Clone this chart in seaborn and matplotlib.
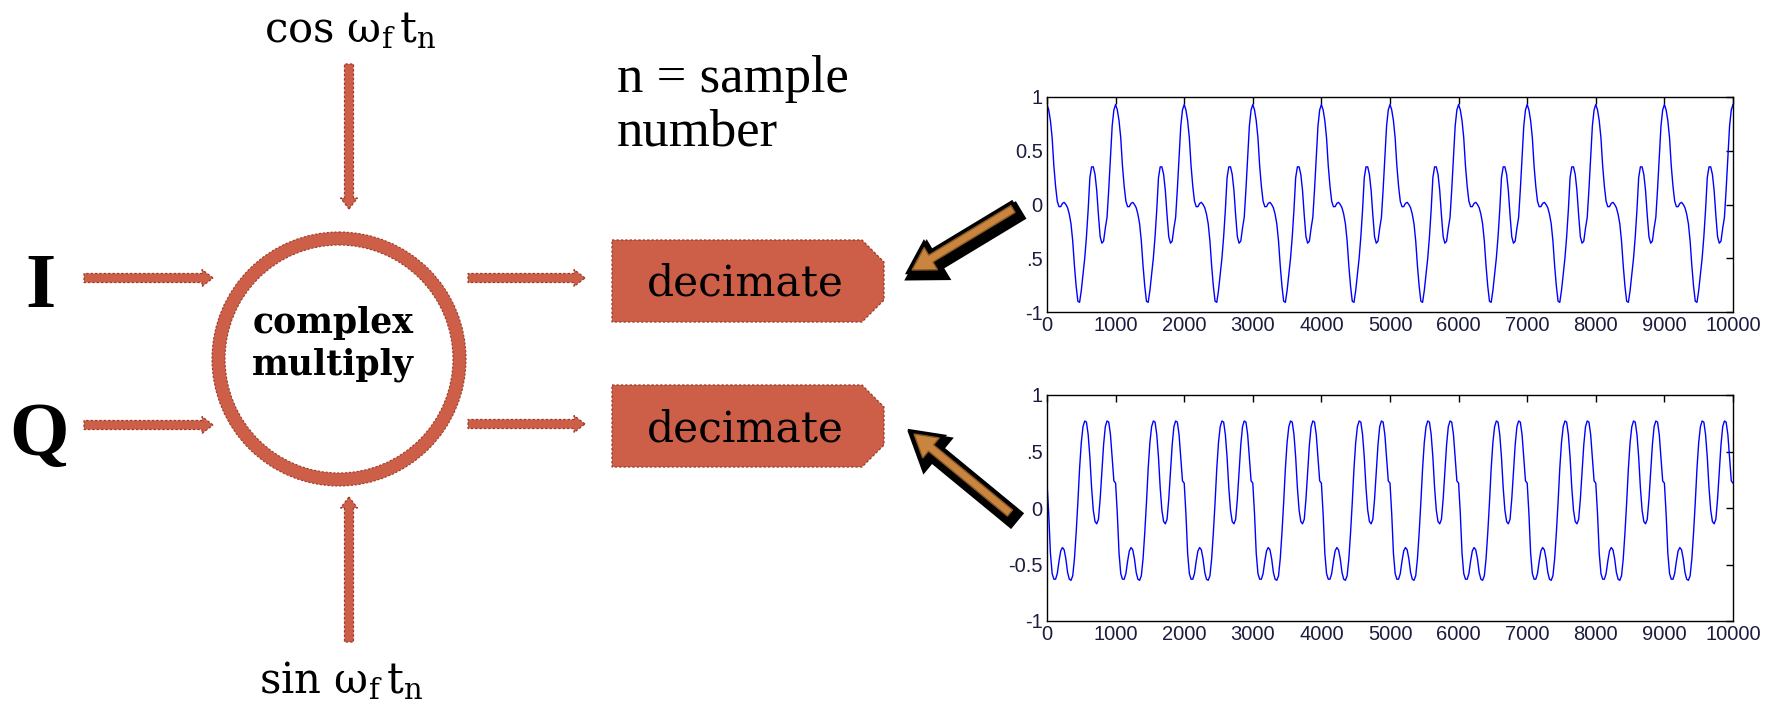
import numpy as np
import matplotlib
matplotlib.use("Agg")
import matplotlib.pyplot as plt
import seaborn as sns
from matplotlib.patches import Circle, Polygon, FancyArrow
import matplotlib.patheffects as pe

# ---------------- data ----------------
# one period (1000 samples) of each waveform, read every 25 samples
period_n = list(range(0, 1000, 25))
i_period = [0.93, 0.88, 0.78, 0.62, 0.36, 0.17, 0.03, -0.02, -0.02, 0.01,
            0.02, 0.00, -0.03, -0.09, -0.18, -0.34, -0.57, -0.76, -0.90, -0.91,
            -0.80, -0.65, -0.50, -0.30, -0.05, 0.25, 0.35, 0.35, 0.28, 0.13,
            -0.10, -0.30, -0.36, -0.34, -0.22, -0.12, 0.14, 0.44, 0.73, 0.88]
q_period = [0.22, -0.05, -0.40, -0.58, -0.63, -0.63, -0.58, -0.47, -0.38, -0.35,
            -0.37, -0.45, -0.57, -0.63, -0.64, -0.60, -0.45, -0.22, 0.05, 0.35,
            0.58, 0.72, 0.77, 0.76, 0.65, 0.45, 0.18, -0.02, -0.12, -0.14,
            -0.10, 0.08, 0.32, 0.56, 0.72, 0.77, 0.76, 0.65, 0.45, 0.24]
n_periods = 10
sample_n = np.arange(0, 1000 * n_periods + 1, 25)
i_values = np.append(np.tile(i_period, n_periods), i_period[0])
q_values = np.append(np.tile(q_period, n_periods), q_period[0])

x_ticks = list(range(0, 10001, 1000))
x_tick_labels = [str(v) for v in x_ticks]
y_ticks = [-1, -0.5, 0, 0.5, 1]
i_ytick_labels = ["-1", ".5", "0", "0.5", "1"]
q_ytick_labels = ["-1", "-0.5", "0", ".5", "1"]

# ---------------- style ----------------
sns.set_theme(style="white")
plt.rcParams["font.family"] = ["DejaVu Sans"]
plt.rcParams["mathtext.fontset"] = "dejavuserif"

W, H = 1769, 711
fig = plt.figure(figsize=(W / 100, H / 100), dpi=100)
fig.patch.set_facecolor("white")


def wave_axes(rect, values, ylabels):
    ax = fig.add_axes(rect)
    sns.lineplot(x=sample_n, y=values, ax=ax, color="#0000FF", linewidth=1.0)
    ax.set_xlim(0, 10000)
    ax.set_ylim(-1, 1)
    ax.set_xticks(x_ticks)
    ax.set_xticklabels(x_tick_labels, family="Liberation Sans")
    ax.set_yticks(y_ticks)
    ax.set_yticklabels(ylabels, family="Liberation Sans")
    ax.set_xlabel("")
    ax.set_ylabel("")
    ax.tick_params(direction="in", top=True, right=True, length=5, width=1,
                   labelsize=14.5, color="black", labelcolor="#1c1c40", pad=3)
    for s in ax.spines.values():
        s.set_visible(True)
        s.set_color("black")
        s.set_linewidth(1.0)
    ax.set_facecolor("white")
    return ax


wave_axes([1047 / W, 1 - 312 / H, 686 / W, 215 / H], i_values, i_ytick_labels)
wave_axes([1047 / W, 1 - 621 / H, 686 / W, 226 / H], q_values, q_ytick_labels)

# ---------------- block diagram overlay ----------------
ov = fig.add_axes([0, 0, 1, 1])
ov.set_xlim(0, W)
ov.set_ylim(H, 0)
ov.axis("off")
ov.set_zorder(5)

RED = "#CD5F48"
EDGE = "#9A3B2B"
DASH = (0, (2, 1.5))

# ring
CX, CY = 339, 359
ov.add_patch(Circle((CX, CY), 120.5, fill=False, lw=13 * 0.72, ec=RED))
for r in (127, 114):
    ov.add_patch(Circle((CX, CY), r, fill=False, lw=0.8, ec=EDGE, ls=DASH))


def red_arrow(x0, y0, x1, y1):
    ov.add_patch(FancyArrow(x0, y0, x1 - x0, y1 - y0, width=9, head_width=17,
                            head_length=11, length_includes_head=True,
                            fc=RED, ec=EDGE, lw=0.9, ls=DASH))


red_arrow(349, 64, 349, 209)
red_arrow(349, 642, 349, 497)
red_arrow(84, 278, 213, 278)
red_arrow(84, 425, 213, 425)
red_arrow(468, 278, 585, 278)
red_arrow(468, 424, 585, 424)

# decimate boxes
for top in (240, 385):
    bot = top + 82
    ov.add_patch(Polygon([(612, top), (862, top), (884, top + 22), (884, bot - 22),
                          (862, bot), (612, bot)], closed=True,
                         fc=RED, ec=EDGE, lw=0.9, ls=DASH))

# brown arrows pointing back to the decimators
for (x0, y0, x1, y1) in [(1013, 209, 912, 270), (1010, 513, 914, 434)]:
    arr = FancyArrow(x0, y0, x1 - x0, y1 - y0, width=8, head_width=26,
                     head_length=22, length_includes_head=True,
                     fc="#C98540", ec="#8a5a25", lw=1)
    arr.set_path_effects([pe.Stroke(linewidth=9, foreground="black", offset=(2, -3)),
                          pe.Stroke(linewidth=6, foreground="black"),
                          pe.Normal()])
    ov.add_patch(arr)

# texts
ov.text(350, 42, r"cos $\mathrm{ω_f\,t_n}$", family="DejaVu Serif", fontsize=30,
        ha="center", va="baseline", color="black")
ov.text(341, 693, r"sin $\mathrm{ω_f\,t_n}$", family="DejaVu Serif", fontsize=30,
        ha="center", va="baseline", color="black")
ov.text(617, 92, "n = sample", family="Liberation Serif", fontsize=38,
        ha="left", va="baseline", color="black")
ov.text(617, 145, "number", family="Liberation Serif", fontsize=38,
        ha="left", va="baseline", color="black")
ov.text(40, 307, "I", family="Liberation Serif", weight="bold", fontsize=56,
        ha="center", va="baseline", color="black")
ov.text(39, 455, "Q", family="Liberation Serif", weight="bold", fontsize=55,
        ha="center", va="baseline", color="black")
ov.text(333, 333, "complex", family="DejaVu Serif", weight="bold", fontsize=25,
        ha="center", va="baseline", color="black")
ov.text(333, 375, "multiply", family="DejaVu Serif", weight="bold", fontsize=25,
        ha="center", va="baseline", color="black")
for yb in (296, 441):
    ov.text(745, yb, "decimate", family="DejaVu Serif", fontsize=30.5,
            ha="center", va="baseline", color="black")

fig.savefig("out.png", dpi=100, facecolor="white")
